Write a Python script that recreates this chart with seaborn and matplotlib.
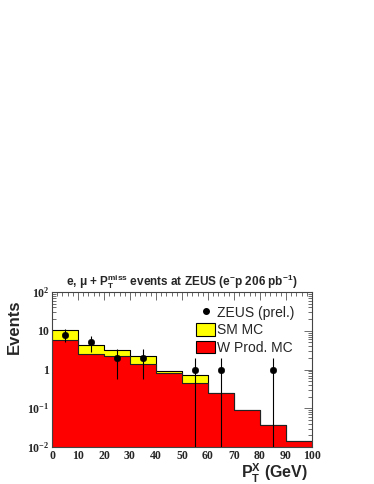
import numpy as np
import pandas as pd
import matplotlib
matplotlib.use("Agg")
import matplotlib.pyplot as plt
import seaborn as sns
from matplotlib.lines import Line2D
from matplotlib.patches import Patch
from matplotlib.ticker import MultipleLocator, FixedLocator, LogLocator, NullFormatter

# bins of P_T^X (GeV)
bin_edges = [0, 10, 20, 30, 40, 50, 60, 70, 80, 90, 100]
bin_centres = [5, 15, 25, 35, 45, 55, 65, 75, 85, 95]
sm_mc = [10.6, 4.2, 3.1, 2.2, 0.94, 0.71, 0.245, 0.092, 0.038, 0.0146]
w_prod_mc = [5.8, 2.5, 2.25, 1.4, 0.82, 0.46, 0.245, 0.092, 0.038, 0.0146]

# ZEUS preliminary data points
data_x = [5, 15, 25, 35, 55, 65, 85]
data_n = [8, 5, 2, 2, 1, 1, 1]

y_ticks = [0.01, 0.1, 1, 10, 100]
y_ticklabels = [r'$\mathdefault{10^{-2}}$', r'$\mathdefault{10^{-1}}$', '1', '10', r'$\mathdefault{10^{2}}$']

sns.set_style("ticks")
plt.rcParams['font.family'] = ['Liberation Sans', 'DejaVu Sans']
plt.rcParams['mathtext.fontset'] = 'custom'
plt.rcParams['mathtext.rm'] = 'Liberation Sans:bold'
plt.rcParams['mathtext.it'] = 'Liberation Sans:bold'
plt.rcParams['mathtext.bf'] = 'Liberation Sans:bold'

mc = pd.DataFrame({'pt': bin_centres, 'sm': sm_mc, 'w': w_prod_mc})

fig = plt.figure(figsize=(3.74, 4.84), dpi=100)
ax = fig.add_axes([52/374, 1-447/484, 260/374, 155/484])

sns.histplot(data=mc, x='pt', weights='sm', bins=bin_edges, element='step', fill=True,
             color='#ffff00', alpha=1, edgecolor='black', linewidth=0.8, ax=ax)
sns.histplot(data=mc, x='pt', weights='w', bins=bin_edges, element='step', fill=True,
             color='#ff0000', alpha=1, edgecolor='#222222', linewidth=0.8, ax=ax)

n = np.array(data_n, dtype=float)
err = np.sqrt(n)
lower = np.minimum(err, n - 1e-6)
ax.errorbar(data_x, n, yerr=[lower, err], fmt='none', ecolor='black', elinewidth=0.8, zorder=5)
sns.scatterplot(x=data_x, y=data_n, color='black', s=22, edgecolor='black', zorder=6, ax=ax)

ax.set_yscale('log')
ax.set_xlim(0, 100)
ax.set_ylim(0.01, 100)

ax.yaxis.set_major_locator(FixedLocator(y_ticks))
ax.set_yticklabels(y_ticklabels)
ax.yaxis.set_minor_locator(LogLocator(base=10, subs=np.arange(2, 10)))
ax.yaxis.set_minor_formatter(NullFormatter())
ax.xaxis.set_major_locator(MultipleLocator(10))
ax.xaxis.set_minor_locator(MultipleLocator(2))

ax.tick_params(which='both', direction='in', top=True, right=True, width=0.6, color='#555555')
ax.tick_params(which='major', length=6)
ax.tick_params(which='minor', length=3)
for lab in ax.get_xticklabels() + ax.get_yticklabels():
    lab.set_family('Liberation Serif')
    lab.set_weight('bold')
    lab.set_fontsize(8.5)
ax.tick_params(axis='x', pad=2)
ax.tick_params(axis='y', pad=2)
for s in ax.spines.values():
    s.set_linewidth(0.8)
    s.set_color('#444444')

ax.set_title(r'e, $\mu$ + P$_T^{miss}$ events at ZEUS (e$^{-}$p 206 pb$^{-1}$)',
             fontsize=8.5, fontweight='bold', pad=5)
ax.set_ylabel('Events', fontsize=12, fontweight='bold', loc='top')
ax.yaxis.set_label_coords(-0.115, 0.95)
ax.set_xlabel(r'P$_T^X$ (GeV)', fontsize=11.5, fontweight='bold', loc='right')
ax.xaxis.set_label_coords(0.985, -0.098)

handles = [Line2D([], [], marker='o', linestyle='none', color='black', markersize=4),
           Patch(facecolor='#ffff00', edgecolor='black', linewidth=0.8),
           Patch(facecolor='#ff0000', edgecolor='black', linewidth=0.8)]
ax.legend(handles, ['ZEUS (prel.)', 'SM MC', 'W Prod. MC'], loc='upper left',
          bbox_to_anchor=(0.545, 0.93), frameon=False, fontsize=10,
          handlelength=1.3, handleheight=1.0, handletextpad=0.2, labelspacing=0.25,
          borderaxespad=0.0, borderpad=0.2)

fig.savefig('out.png', dpi=100)
